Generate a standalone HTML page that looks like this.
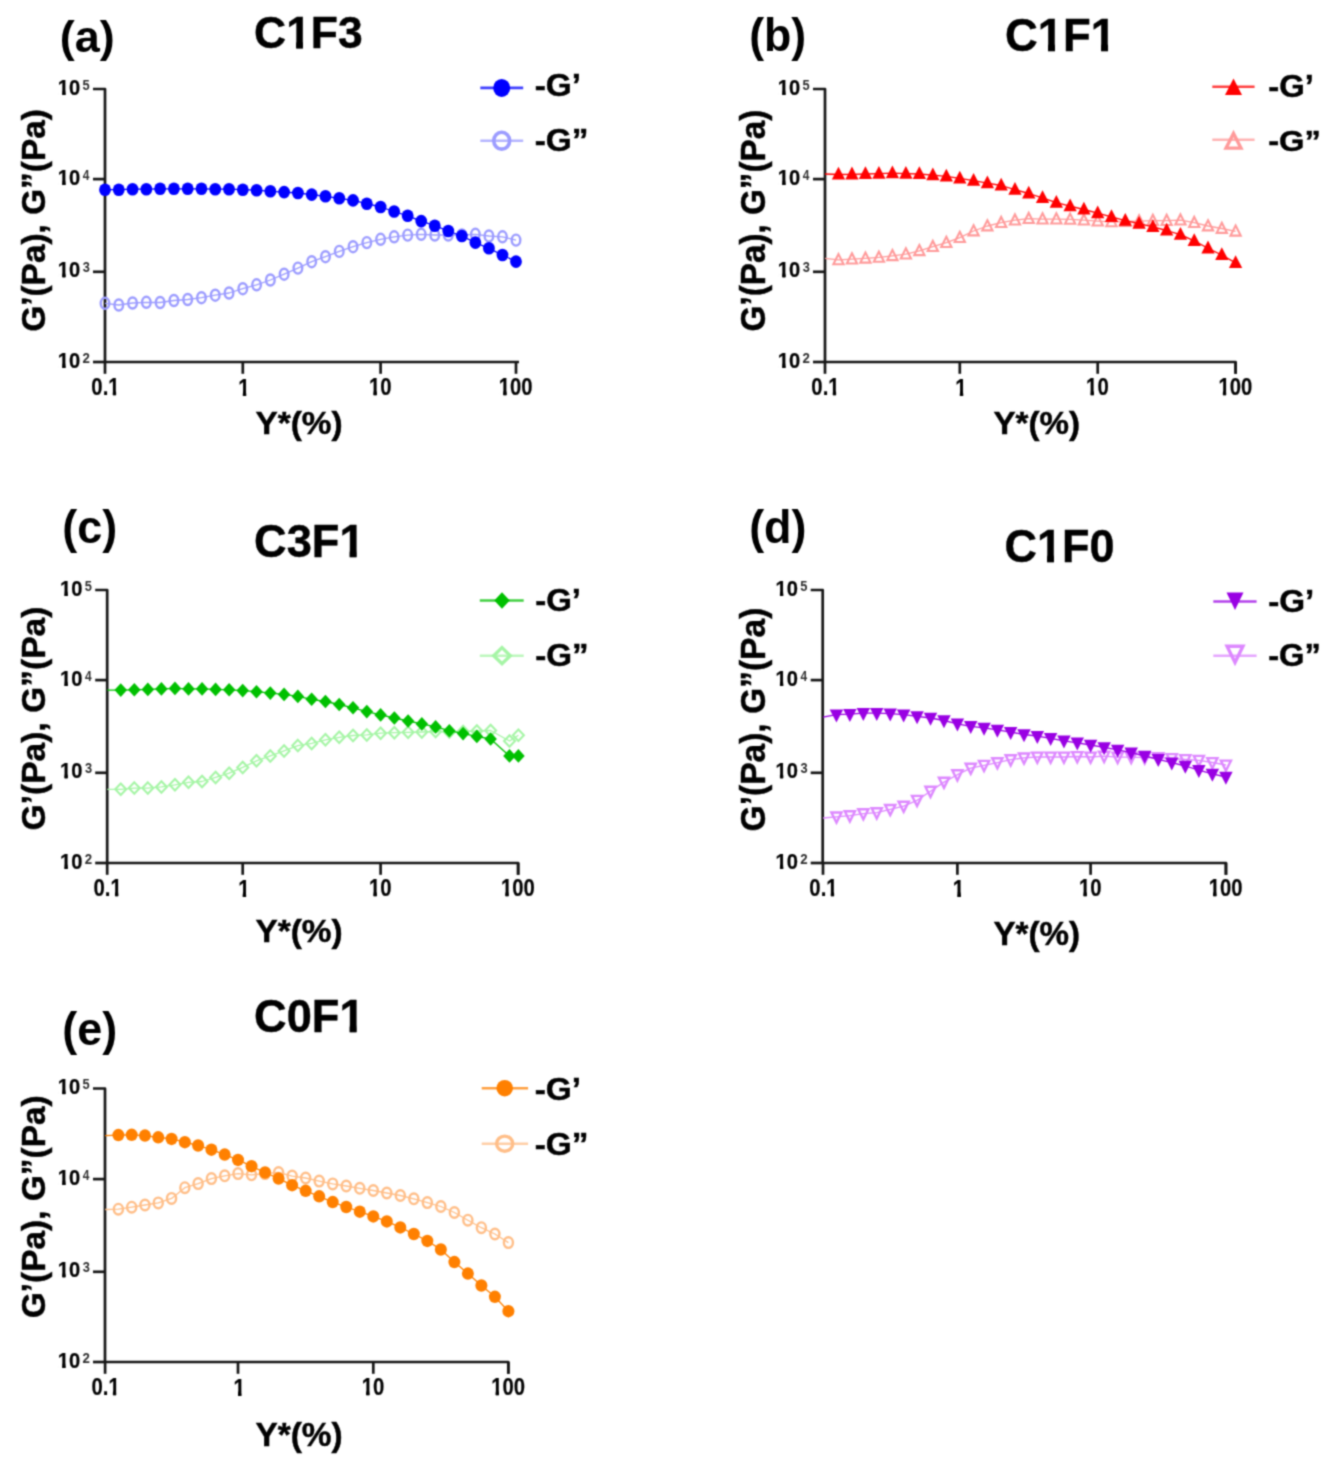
<!DOCTYPE html><html><head><meta charset="utf-8"><style>html,body{margin:0;padding:0;background:#fff;}svg{display:block;}text{font-family:"Liberation Sans",sans-serif;font-weight:bold;font-kerning:none;stroke:#000;stroke-width:0.45px;}</style></head><body>
<svg width="1331" height="1466" viewBox="0 0 1331 1466">
<defs><filter id="bl" x="0" y="0" width="1331" height="1466" filterUnits="userSpaceOnUse" color-interpolation-filters="sRGB"><feConvolveMatrix order="5" kernelMatrix="0.00009 0.00198 0.00548 0.00198 0.00009 0.00198 0.04220 0.11707 0.04220 0.00198 0.00548 0.11707 0.32480 0.11707 0.00548 0.00198 0.04220 0.11707 0.04220 0.00198 0.00009 0.00198 0.00548 0.00198 0.00009" divisor="1" edgeMode="duplicate"/></filter></defs><g filter="url(#bl)">
<rect width="1331" height="1466" fill="#fff"/>
<path d="M93.00,89.00 H105.00 V362.00 H519.00" fill="none" stroke="#161616" stroke-width="2.7" stroke-linejoin="round"/>
<line x1="93.00" y1="271.80" x2="105.00" y2="271.80" stroke="#161616" stroke-width="2.7"/>
<line x1="93.00" y1="179.10" x2="105.00" y2="179.10" stroke="#161616" stroke-width="2.7"/>
<line x1="93.00" y1="362.00" x2="105.00" y2="362.00" stroke="#161616" stroke-width="2.7"/>
<line x1="105.00" y1="362.00" x2="105.00" y2="373.80" stroke="#161616" stroke-width="2.7"/>
<line x1="242.80" y1="362.00" x2="242.80" y2="373.80" stroke="#161616" stroke-width="2.7"/>
<line x1="380.60" y1="362.00" x2="380.60" y2="373.80" stroke="#161616" stroke-width="2.7"/>
<line x1="516.00" y1="362.00" x2="516.00" y2="373.80" stroke="#161616" stroke-width="2.7"/>
<text transform="translate(57.82,367.58) scale(0.8857,1)" font-size="22.74" fill="#000" style="stroke-width:0.25px">10</text>
<g transform="translate(57.82,367.58) scale(0.8857,1)" fill="#fff"><rect x="0.43" y="-3.32" width="4.53" height="4.62"/><rect x="8.78" y="-3.32" width="4.24" height="4.62"/><rect fill="#000" x="5.18" y="-3.82" width="3.37" height="3.95"/></g>
<text transform="translate(82.54,362.70) scale(0.9190,1)" font-size="14.46" fill="#303030" style="stroke-width:0px">2</text>
<text transform="translate(57.82,277.38) scale(0.8857,1)" font-size="22.74" fill="#000" style="stroke-width:0.25px">10</text>
<g transform="translate(57.82,277.38) scale(0.8857,1)" fill="#fff"><rect x="0.43" y="-3.32" width="4.53" height="4.62"/><rect x="8.78" y="-3.32" width="4.24" height="4.62"/><rect fill="#000" x="5.18" y="-3.82" width="3.37" height="3.95"/></g>
<text transform="translate(82.70,272.34) scale(0.9044,1)" font-size="14.24" fill="#303030" style="stroke-width:0px">3</text>
<text transform="translate(57.82,184.68) scale(0.8857,1)" font-size="22.74" fill="#000" style="stroke-width:0.25px">10</text>
<g transform="translate(57.82,184.68) scale(0.8857,1)" fill="#fff"><rect x="0.43" y="-3.32" width="4.53" height="4.62"/><rect x="8.78" y="-3.32" width="4.24" height="4.62"/><rect fill="#000" x="5.18" y="-3.82" width="3.37" height="3.95"/></g>
<text transform="translate(82.82,179.80) scale(0.8139,1)" font-size="14.68" fill="#303030" style="stroke-width:0px">4</text>
<text transform="translate(57.82,94.58) scale(0.8857,1)" font-size="22.74" fill="#000" style="stroke-width:0.25px">10</text>
<g transform="translate(57.82,94.58) scale(0.8857,1)" fill="#fff"><rect x="0.43" y="-3.32" width="4.53" height="4.62"/><rect x="8.78" y="-3.32" width="4.24" height="4.62"/><rect fill="#000" x="5.18" y="-3.82" width="3.37" height="3.95"/></g>
<text transform="translate(82.60,89.56) scale(0.8886,1)" font-size="14.48" fill="#303030" style="stroke-width:0px">5</text>
<text transform="translate(91.36,395.27) scale(0.8464,1)" font-size="24.01" fill="#000" style="stroke-width:0.2px">0.1</text>
<g transform="translate(91.36,395.27) scale(0.8464,1)" fill="#fff"><rect x="20.54" y="-3.45" width="4.74" height="4.75"/><rect x="29.27" y="-3.45" width="4.44" height="4.75"/><rect fill="#000" x="25.53" y="-3.95" width="3.49" height="4.05"/></g>
<text transform="translate(238.23,395.50) scale(0.8423,1)" font-size="24.71" fill="#000" style="stroke-width:0.2px">1</text>
<g transform="translate(238.23,395.50) scale(0.8423,1)" fill="#fff"><rect x="0.56" y="-3.52" width="4.86" height="4.82"/><rect x="9.51" y="-3.52" width="4.55" height="4.82"/><rect fill="#000" x="5.67" y="-4.02" width="3.59" height="4.12"/></g>
<text transform="translate(369.00,395.27) scale(0.8476,1)" font-size="24.01" fill="#000" style="stroke-width:0.2px">10</text>
<g transform="translate(369.00,395.27) scale(0.8476,1)" fill="#fff"><rect x="0.51" y="-3.45" width="4.74" height="4.75"/><rect x="9.25" y="-3.45" width="4.44" height="4.75"/><rect fill="#000" x="5.50" y="-3.95" width="3.49" height="4.05"/></g>
<text transform="translate(498.80,395.27) scale(0.8446,1)" font-size="24.01" fill="#000" style="stroke-width:0.2px">100</text>
<g transform="translate(498.80,395.27) scale(0.8446,1)" fill="#fff"><rect x="0.51" y="-3.45" width="4.74" height="4.75"/><rect x="9.25" y="-3.45" width="4.44" height="4.75"/><rect fill="#000" x="5.50" y="-3.95" width="3.49" height="4.05"/></g>
<text transform="translate(59.76,51.53) scale(0.9960,1)" font-size="45.17" fill="#000" style="stroke-width:0px">(a)</text>
<text transform="translate(254.08,48.30) scale(1.0005,1)" font-size="44.40" fill="#000">C1F3</text>
<g transform="translate(254.08,48.30) scale(1.0005,1)" fill="#fff"><rect x="33.86" y="-5.53" width="8.22" height="6.83"/><rect x="48.87" y="-5.53" width="7.65" height="6.83"/><rect fill="#000" x="42.20" y="-6.03" width="6.54" height="6.26"/></g>
<text transform="translate(44.83,331.77) rotate(-90) scale(1.0243,1)" font-size="32.61" fill="#000">G’(Pa), G”(Pa)</text>
<text transform="translate(255.43,433.90) scale(1.0664,1)" font-size="31.33" fill="#000">Y*(%)</text>
<path d="M105.00,303.30 L118.78,305.00 L132.56,303.00 L146.34,302.30 L160.12,302.50 L173.90,300.50 L187.68,299.50 L201.46,297.70 L215.24,295.20 L229.02,293.00 L242.80,288.70 L256.58,284.80 L270.36,280.00 L284.14,274.20 L297.92,268.10 L311.70,261.70 L325.48,256.70 L339.26,251.40 L353.04,246.70 L366.82,242.60 L380.60,239.30 L394.14,236.80 L407.68,235.10 L421.22,234.30 L434.76,235.00 L448.30,235.00 L461.84,235.00 L475.38,234.30 L488.92,236.00 L502.46,236.80 L516.00,240.10" fill="none" stroke="#9C9CFF" stroke-width="1.3" stroke-linejoin="round"/>
<ellipse cx="105.00" cy="303.30" rx="4.30" ry="5.50" fill="none" stroke="#9C9CFF" stroke-width="2.4"/>
<ellipse cx="118.78" cy="305.00" rx="4.30" ry="5.50" fill="none" stroke="#9C9CFF" stroke-width="2.4"/>
<ellipse cx="132.56" cy="303.00" rx="4.30" ry="5.50" fill="none" stroke="#9C9CFF" stroke-width="2.4"/>
<ellipse cx="146.34" cy="302.30" rx="4.30" ry="5.50" fill="none" stroke="#9C9CFF" stroke-width="2.4"/>
<ellipse cx="160.12" cy="302.50" rx="4.30" ry="5.50" fill="none" stroke="#9C9CFF" stroke-width="2.4"/>
<ellipse cx="173.90" cy="300.50" rx="4.30" ry="5.50" fill="none" stroke="#9C9CFF" stroke-width="2.4"/>
<ellipse cx="187.68" cy="299.50" rx="4.30" ry="5.50" fill="none" stroke="#9C9CFF" stroke-width="2.4"/>
<ellipse cx="201.46" cy="297.70" rx="4.30" ry="5.50" fill="none" stroke="#9C9CFF" stroke-width="2.4"/>
<ellipse cx="215.24" cy="295.20" rx="4.30" ry="5.50" fill="none" stroke="#9C9CFF" stroke-width="2.4"/>
<ellipse cx="229.02" cy="293.00" rx="4.30" ry="5.50" fill="none" stroke="#9C9CFF" stroke-width="2.4"/>
<ellipse cx="242.80" cy="288.70" rx="4.30" ry="5.50" fill="none" stroke="#9C9CFF" stroke-width="2.4"/>
<ellipse cx="256.58" cy="284.80" rx="4.30" ry="5.50" fill="none" stroke="#9C9CFF" stroke-width="2.4"/>
<ellipse cx="270.36" cy="280.00" rx="4.30" ry="5.50" fill="none" stroke="#9C9CFF" stroke-width="2.4"/>
<ellipse cx="284.14" cy="274.20" rx="4.30" ry="5.50" fill="none" stroke="#9C9CFF" stroke-width="2.4"/>
<ellipse cx="297.92" cy="268.10" rx="4.30" ry="5.50" fill="none" stroke="#9C9CFF" stroke-width="2.4"/>
<ellipse cx="311.70" cy="261.70" rx="4.30" ry="5.50" fill="none" stroke="#9C9CFF" stroke-width="2.4"/>
<ellipse cx="325.48" cy="256.70" rx="4.30" ry="5.50" fill="none" stroke="#9C9CFF" stroke-width="2.4"/>
<ellipse cx="339.26" cy="251.40" rx="4.30" ry="5.50" fill="none" stroke="#9C9CFF" stroke-width="2.4"/>
<ellipse cx="353.04" cy="246.70" rx="4.30" ry="5.50" fill="none" stroke="#9C9CFF" stroke-width="2.4"/>
<ellipse cx="366.82" cy="242.60" rx="4.30" ry="5.50" fill="none" stroke="#9C9CFF" stroke-width="2.4"/>
<ellipse cx="380.60" cy="239.30" rx="4.30" ry="5.50" fill="none" stroke="#9C9CFF" stroke-width="2.4"/>
<ellipse cx="394.14" cy="236.80" rx="4.30" ry="5.50" fill="none" stroke="#9C9CFF" stroke-width="2.4"/>
<ellipse cx="407.68" cy="235.10" rx="4.30" ry="5.50" fill="none" stroke="#9C9CFF" stroke-width="2.4"/>
<ellipse cx="421.22" cy="234.30" rx="4.30" ry="5.50" fill="none" stroke="#9C9CFF" stroke-width="2.4"/>
<ellipse cx="434.76" cy="235.00" rx="4.30" ry="5.50" fill="none" stroke="#9C9CFF" stroke-width="2.4"/>
<ellipse cx="448.30" cy="235.00" rx="4.30" ry="5.50" fill="none" stroke="#9C9CFF" stroke-width="2.4"/>
<ellipse cx="461.84" cy="235.00" rx="4.30" ry="5.50" fill="none" stroke="#9C9CFF" stroke-width="2.4"/>
<ellipse cx="475.38" cy="234.30" rx="4.30" ry="5.50" fill="none" stroke="#9C9CFF" stroke-width="2.4"/>
<ellipse cx="488.92" cy="236.00" rx="4.30" ry="5.50" fill="none" stroke="#9C9CFF" stroke-width="2.4"/>
<ellipse cx="502.46" cy="236.80" rx="4.30" ry="5.50" fill="none" stroke="#9C9CFF" stroke-width="2.4"/>
<ellipse cx="516.00" cy="240.10" rx="4.30" ry="5.50" fill="none" stroke="#9C9CFF" stroke-width="2.4"/>
<path d="M105.00,189.70 L118.78,189.70 L132.56,189.20 L146.34,189.20 L160.12,188.80 L173.90,188.80 L187.68,188.80 L201.46,188.80 L215.24,189.20 L229.02,189.20 L242.80,189.70 L256.58,190.20 L270.36,191.30 L284.14,192.10 L297.92,193.00 L311.70,194.60 L325.48,196.30 L339.26,198.30 L353.04,200.40 L366.82,203.70 L380.60,207.00 L394.14,211.50 L407.68,215.80 L421.22,221.10 L434.76,225.70 L448.30,231.00 L461.84,236.00 L475.38,242.60 L488.92,248.30 L502.46,255.00 L516.00,261.60" fill="none" stroke="#0000FF" stroke-width="1.3" stroke-linejoin="round"/>
<ellipse cx="105.00" cy="189.70" rx="5.90" ry="6.30" fill="#0000FF"/>
<ellipse cx="118.78" cy="189.70" rx="5.90" ry="6.30" fill="#0000FF"/>
<ellipse cx="132.56" cy="189.20" rx="5.90" ry="6.30" fill="#0000FF"/>
<ellipse cx="146.34" cy="189.20" rx="5.90" ry="6.30" fill="#0000FF"/>
<ellipse cx="160.12" cy="188.80" rx="5.90" ry="6.30" fill="#0000FF"/>
<ellipse cx="173.90" cy="188.80" rx="5.90" ry="6.30" fill="#0000FF"/>
<ellipse cx="187.68" cy="188.80" rx="5.90" ry="6.30" fill="#0000FF"/>
<ellipse cx="201.46" cy="188.80" rx="5.90" ry="6.30" fill="#0000FF"/>
<ellipse cx="215.24" cy="189.20" rx="5.90" ry="6.30" fill="#0000FF"/>
<ellipse cx="229.02" cy="189.20" rx="5.90" ry="6.30" fill="#0000FF"/>
<ellipse cx="242.80" cy="189.70" rx="5.90" ry="6.30" fill="#0000FF"/>
<ellipse cx="256.58" cy="190.20" rx="5.90" ry="6.30" fill="#0000FF"/>
<ellipse cx="270.36" cy="191.30" rx="5.90" ry="6.30" fill="#0000FF"/>
<ellipse cx="284.14" cy="192.10" rx="5.90" ry="6.30" fill="#0000FF"/>
<ellipse cx="297.92" cy="193.00" rx="5.90" ry="6.30" fill="#0000FF"/>
<ellipse cx="311.70" cy="194.60" rx="5.90" ry="6.30" fill="#0000FF"/>
<ellipse cx="325.48" cy="196.30" rx="5.90" ry="6.30" fill="#0000FF"/>
<ellipse cx="339.26" cy="198.30" rx="5.90" ry="6.30" fill="#0000FF"/>
<ellipse cx="353.04" cy="200.40" rx="5.90" ry="6.30" fill="#0000FF"/>
<ellipse cx="366.82" cy="203.70" rx="5.90" ry="6.30" fill="#0000FF"/>
<ellipse cx="380.60" cy="207.00" rx="5.90" ry="6.30" fill="#0000FF"/>
<ellipse cx="394.14" cy="211.50" rx="5.90" ry="6.30" fill="#0000FF"/>
<ellipse cx="407.68" cy="215.80" rx="5.90" ry="6.30" fill="#0000FF"/>
<ellipse cx="421.22" cy="221.10" rx="5.90" ry="6.30" fill="#0000FF"/>
<ellipse cx="434.76" cy="225.70" rx="5.90" ry="6.30" fill="#0000FF"/>
<ellipse cx="448.30" cy="231.00" rx="5.90" ry="6.30" fill="#0000FF"/>
<ellipse cx="461.84" cy="236.00" rx="5.90" ry="6.30" fill="#0000FF"/>
<ellipse cx="475.38" cy="242.60" rx="5.90" ry="6.30" fill="#0000FF"/>
<ellipse cx="488.92" cy="248.30" rx="5.90" ry="6.30" fill="#0000FF"/>
<ellipse cx="502.46" cy="255.00" rx="5.90" ry="6.30" fill="#0000FF"/>
<ellipse cx="516.00" cy="261.60" rx="5.90" ry="6.30" fill="#0000FF"/>
<line x1="480.30" y1="87.90" x2="523.20" y2="87.90" stroke="#0000FF" stroke-width="2.6" opacity="0.75"/>
<ellipse cx="501.70" cy="87.90" rx="8.50" ry="9.00" fill="#0000FF"/>
<text transform="translate(534.70,96.29) scale(1.0650,1)" font-size="31.36" fill="#000">-G’</text>
<line x1="480.30" y1="140.70" x2="523.20" y2="140.70" stroke="#9C9CFF" stroke-width="2.6" opacity="0.75"/>
<ellipse cx="501.70" cy="140.70" rx="7.95" ry="8.45" fill="none" stroke="#9C9CFF" stroke-width="3.6"/>
<text transform="translate(534.69,150.99) scale(1.0669,1)" font-size="31.36" fill="#000">-G”</text>
<path d="M813.00,89.00 H825.00 V362.00 H1235.60 V373.80" fill="none" stroke="#161616" stroke-width="2.7" stroke-linejoin="round"/>
<line x1="813.00" y1="271.80" x2="825.00" y2="271.80" stroke="#161616" stroke-width="2.7"/>
<line x1="813.00" y1="179.10" x2="825.00" y2="179.10" stroke="#161616" stroke-width="2.7"/>
<line x1="813.00" y1="362.00" x2="825.00" y2="362.00" stroke="#161616" stroke-width="2.7"/>
<line x1="825.00" y1="362.00" x2="825.00" y2="373.80" stroke="#161616" stroke-width="2.7"/>
<line x1="959.80" y1="362.00" x2="959.80" y2="373.80" stroke="#161616" stroke-width="2.7"/>
<line x1="1097.70" y1="362.00" x2="1097.70" y2="373.80" stroke="#161616" stroke-width="2.7"/>
<line x1="1235.60" y1="362.00" x2="1235.60" y2="373.80" stroke="#161616" stroke-width="2.7"/>
<text transform="translate(777.82,367.58) scale(0.8857,1)" font-size="22.74" fill="#000" style="stroke-width:0.25px">10</text>
<g transform="translate(777.82,367.58) scale(0.8857,1)" fill="#fff"><rect x="0.43" y="-3.32" width="4.53" height="4.62"/><rect x="8.78" y="-3.32" width="4.24" height="4.62"/><rect fill="#000" x="5.18" y="-3.82" width="3.37" height="3.95"/></g>
<text transform="translate(802.54,362.70) scale(0.9190,1)" font-size="14.46" fill="#303030" style="stroke-width:0px">2</text>
<text transform="translate(777.82,277.38) scale(0.8857,1)" font-size="22.74" fill="#000" style="stroke-width:0.25px">10</text>
<g transform="translate(777.82,277.38) scale(0.8857,1)" fill="#fff"><rect x="0.43" y="-3.32" width="4.53" height="4.62"/><rect x="8.78" y="-3.32" width="4.24" height="4.62"/><rect fill="#000" x="5.18" y="-3.82" width="3.37" height="3.95"/></g>
<text transform="translate(802.70,272.34) scale(0.9044,1)" font-size="14.24" fill="#303030" style="stroke-width:0px">3</text>
<text transform="translate(777.82,184.68) scale(0.8857,1)" font-size="22.74" fill="#000" style="stroke-width:0.25px">10</text>
<g transform="translate(777.82,184.68) scale(0.8857,1)" fill="#fff"><rect x="0.43" y="-3.32" width="4.53" height="4.62"/><rect x="8.78" y="-3.32" width="4.24" height="4.62"/><rect fill="#000" x="5.18" y="-3.82" width="3.37" height="3.95"/></g>
<text transform="translate(802.82,179.80) scale(0.8139,1)" font-size="14.68" fill="#303030" style="stroke-width:0px">4</text>
<text transform="translate(777.82,94.58) scale(0.8857,1)" font-size="22.74" fill="#000" style="stroke-width:0.25px">10</text>
<g transform="translate(777.82,94.58) scale(0.8857,1)" fill="#fff"><rect x="0.43" y="-3.32" width="4.53" height="4.62"/><rect x="8.78" y="-3.32" width="4.24" height="4.62"/><rect fill="#000" x="5.18" y="-3.82" width="3.37" height="3.95"/></g>
<text transform="translate(802.60,89.56) scale(0.8886,1)" font-size="14.48" fill="#303030" style="stroke-width:0px">5</text>
<text transform="translate(811.36,395.27) scale(0.8464,1)" font-size="24.01" fill="#000" style="stroke-width:0.2px">0.1</text>
<g transform="translate(811.36,395.27) scale(0.8464,1)" fill="#fff"><rect x="20.54" y="-3.45" width="4.74" height="4.75"/><rect x="29.27" y="-3.45" width="4.44" height="4.75"/><rect fill="#000" x="25.53" y="-3.95" width="3.49" height="4.05"/></g>
<text transform="translate(955.23,395.50) scale(0.8423,1)" font-size="24.71" fill="#000" style="stroke-width:0.2px">1</text>
<g transform="translate(955.23,395.50) scale(0.8423,1)" fill="#fff"><rect x="0.56" y="-3.52" width="4.86" height="4.82"/><rect x="9.51" y="-3.52" width="4.55" height="4.82"/><rect fill="#000" x="5.67" y="-4.02" width="3.59" height="4.12"/></g>
<text transform="translate(1086.10,395.27) scale(0.8476,1)" font-size="24.01" fill="#000" style="stroke-width:0.2px">10</text>
<g transform="translate(1086.10,395.27) scale(0.8476,1)" fill="#fff"><rect x="0.51" y="-3.45" width="4.74" height="4.75"/><rect x="9.25" y="-3.45" width="4.44" height="4.75"/><rect fill="#000" x="5.50" y="-3.95" width="3.49" height="4.05"/></g>
<text transform="translate(1218.40,395.27) scale(0.8446,1)" font-size="24.01" fill="#000" style="stroke-width:0.2px">100</text>
<g transform="translate(1218.40,395.27) scale(0.8446,1)" fill="#fff"><rect x="0.51" y="-3.45" width="4.74" height="4.75"/><rect x="9.25" y="-3.45" width="4.44" height="4.75"/><rect fill="#000" x="5.50" y="-3.95" width="3.49" height="4.05"/></g>
<text transform="translate(749.17,51.46) scale(0.9823,1)" font-size="45.49" fill="#000" style="stroke-width:0px">(b)</text>
<text transform="translate(1004.93,50.85) scale(0.9907,1)" font-size="45.90" fill="#000">C1F1</text>
<g transform="translate(1004.93,50.85) scale(0.9907,1)" fill="#fff"><rect x="35.04" y="-5.68" width="8.47" height="6.98"/><rect x="50.51" y="-5.68" width="7.89" height="6.98"/><rect fill="#000" x="43.64" y="-6.18" width="6.75" height="6.41"/><rect x="88.61" y="-5.68" width="8.47" height="6.98"/><rect x="104.08" y="-5.68" width="7.89" height="6.98"/><rect fill="#000" x="97.21" y="-6.18" width="6.75" height="6.41"/></g>
<text transform="translate(765.14,331.46) rotate(-90) scale(0.9513,1)" font-size="34.97" fill="#000">G’(Pa), G”(Pa)</text>
<text transform="translate(993.43,433.90) scale(1.0589,1)" font-size="31.33" fill="#000">Y*(%)</text>
<path d="M825.00,258.30 L838.48,259.90 L851.96,259.10 L865.44,258.30 L878.92,257.40 L892.40,255.80 L905.88,254.10 L919.36,250.80 L932.84,246.70 L946.32,242.60 L959.80,237.60 L973.59,231.00 L987.38,226.00 L1001.17,222.70 L1014.96,220.20 L1028.75,218.70 L1042.54,219.10 L1056.33,219.10 L1070.12,219.40 L1083.91,220.20 L1097.70,221.10 L1111.49,221.90 L1125.28,221.50 L1139.07,221.10 L1152.86,220.60 L1166.65,220.60 L1180.44,220.20 L1194.23,222.70 L1208.02,226.00 L1221.81,228.50 L1235.60,231.30" fill="none" stroke="#FF9A9A" stroke-width="1.3" stroke-linejoin="round"/>
<polygon points="838.48,254.11 843.59,264.25 833.37,264.25" fill="none" stroke="#FF9A9A" stroke-width="2.1" stroke-linejoin="miter"/>
<polygon points="851.96,253.31 857.07,263.45 846.85,263.45" fill="none" stroke="#FF9A9A" stroke-width="2.1" stroke-linejoin="miter"/>
<polygon points="865.44,252.51 870.55,262.65 860.33,262.65" fill="none" stroke="#FF9A9A" stroke-width="2.1" stroke-linejoin="miter"/>
<polygon points="878.92,251.61 884.03,261.75 873.81,261.75" fill="none" stroke="#FF9A9A" stroke-width="2.1" stroke-linejoin="miter"/>
<polygon points="892.40,250.01 897.51,260.15 887.29,260.15" fill="none" stroke="#FF9A9A" stroke-width="2.1" stroke-linejoin="miter"/>
<polygon points="905.88,248.31 910.99,258.45 900.77,258.45" fill="none" stroke="#FF9A9A" stroke-width="2.1" stroke-linejoin="miter"/>
<polygon points="919.36,245.01 924.47,255.15 914.25,255.15" fill="none" stroke="#FF9A9A" stroke-width="2.1" stroke-linejoin="miter"/>
<polygon points="932.84,240.91 937.95,251.05 927.73,251.05" fill="none" stroke="#FF9A9A" stroke-width="2.1" stroke-linejoin="miter"/>
<polygon points="946.32,236.81 951.43,246.95 941.21,246.95" fill="none" stroke="#FF9A9A" stroke-width="2.1" stroke-linejoin="miter"/>
<polygon points="959.80,231.81 964.91,241.95 954.69,241.95" fill="none" stroke="#FF9A9A" stroke-width="2.1" stroke-linejoin="miter"/>
<polygon points="973.59,225.21 978.70,235.35 968.48,235.35" fill="none" stroke="#FF9A9A" stroke-width="2.1" stroke-linejoin="miter"/>
<polygon points="987.38,220.21 992.49,230.35 982.27,230.35" fill="none" stroke="#FF9A9A" stroke-width="2.1" stroke-linejoin="miter"/>
<polygon points="1001.17,216.91 1006.28,227.05 996.06,227.05" fill="none" stroke="#FF9A9A" stroke-width="2.1" stroke-linejoin="miter"/>
<polygon points="1014.96,214.41 1020.07,224.55 1009.85,224.55" fill="none" stroke="#FF9A9A" stroke-width="2.1" stroke-linejoin="miter"/>
<polygon points="1028.75,212.91 1033.86,223.05 1023.64,223.05" fill="none" stroke="#FF9A9A" stroke-width="2.1" stroke-linejoin="miter"/>
<polygon points="1042.54,213.31 1047.65,223.45 1037.43,223.45" fill="none" stroke="#FF9A9A" stroke-width="2.1" stroke-linejoin="miter"/>
<polygon points="1056.33,213.31 1061.44,223.45 1051.22,223.45" fill="none" stroke="#FF9A9A" stroke-width="2.1" stroke-linejoin="miter"/>
<polygon points="1070.12,213.61 1075.23,223.75 1065.01,223.75" fill="none" stroke="#FF9A9A" stroke-width="2.1" stroke-linejoin="miter"/>
<polygon points="1083.91,214.41 1089.02,224.55 1078.80,224.55" fill="none" stroke="#FF9A9A" stroke-width="2.1" stroke-linejoin="miter"/>
<polygon points="1097.70,215.31 1102.81,225.45 1092.59,225.45" fill="none" stroke="#FF9A9A" stroke-width="2.1" stroke-linejoin="miter"/>
<polygon points="1111.49,216.11 1116.60,226.25 1106.38,226.25" fill="none" stroke="#FF9A9A" stroke-width="2.1" stroke-linejoin="miter"/>
<polygon points="1125.28,215.71 1130.39,225.85 1120.17,225.85" fill="none" stroke="#FF9A9A" stroke-width="2.1" stroke-linejoin="miter"/>
<polygon points="1139.07,215.31 1144.18,225.45 1133.96,225.45" fill="none" stroke="#FF9A9A" stroke-width="2.1" stroke-linejoin="miter"/>
<polygon points="1152.86,214.81 1157.97,224.95 1147.75,224.95" fill="none" stroke="#FF9A9A" stroke-width="2.1" stroke-linejoin="miter"/>
<polygon points="1166.65,214.81 1171.76,224.95 1161.54,224.95" fill="none" stroke="#FF9A9A" stroke-width="2.1" stroke-linejoin="miter"/>
<polygon points="1180.44,214.41 1185.55,224.55 1175.33,224.55" fill="none" stroke="#FF9A9A" stroke-width="2.1" stroke-linejoin="miter"/>
<polygon points="1194.23,216.91 1199.34,227.05 1189.12,227.05" fill="none" stroke="#FF9A9A" stroke-width="2.1" stroke-linejoin="miter"/>
<polygon points="1208.02,220.21 1213.13,230.35 1202.91,230.35" fill="none" stroke="#FF9A9A" stroke-width="2.1" stroke-linejoin="miter"/>
<polygon points="1221.81,222.71 1226.92,232.85 1216.70,232.85" fill="none" stroke="#FF9A9A" stroke-width="2.1" stroke-linejoin="miter"/>
<polygon points="1235.60,225.51 1240.71,235.65 1230.49,235.65" fill="none" stroke="#FF9A9A" stroke-width="2.1" stroke-linejoin="miter"/>
<path d="M825.00,174.00 L838.48,174.50 L851.96,174.30 L865.44,174.00 L878.92,173.60 L892.40,173.10 L905.88,173.60 L919.36,174.00 L932.84,175.10 L946.32,176.40 L959.80,178.40 L973.59,180.60 L987.38,183.10 L1001.17,185.50 L1014.96,189.70 L1028.75,193.50 L1042.54,197.90 L1056.33,202.60 L1070.12,206.20 L1083.91,209.50 L1097.70,213.10 L1111.49,216.90 L1125.28,220.60 L1139.07,223.60 L1152.86,226.90 L1166.65,230.50 L1180.44,234.60 L1194.23,240.90 L1208.02,248.30 L1221.81,255.00 L1235.60,262.90" fill="none" stroke="#FF0000" stroke-width="1.3" stroke-linejoin="round"/>
<polygon points="838.48,166.82 845.13,179.62 831.83,179.62" fill="#FF0000"/>
<polygon points="851.96,166.62 858.61,179.42 845.31,179.42" fill="#FF0000"/>
<polygon points="865.44,166.32 872.09,179.12 858.79,179.12" fill="#FF0000"/>
<polygon points="878.92,165.92 885.57,178.72 872.27,178.72" fill="#FF0000"/>
<polygon points="892.40,165.42 899.05,178.22 885.75,178.22" fill="#FF0000"/>
<polygon points="905.88,165.92 912.53,178.72 899.23,178.72" fill="#FF0000"/>
<polygon points="919.36,166.32 926.01,179.12 912.71,179.12" fill="#FF0000"/>
<polygon points="932.84,167.42 939.49,180.22 926.19,180.22" fill="#FF0000"/>
<polygon points="946.32,168.72 952.97,181.52 939.67,181.52" fill="#FF0000"/>
<polygon points="959.80,170.72 966.45,183.52 953.15,183.52" fill="#FF0000"/>
<polygon points="973.59,172.92 980.24,185.72 966.94,185.72" fill="#FF0000"/>
<polygon points="987.38,175.42 994.03,188.22 980.73,188.22" fill="#FF0000"/>
<polygon points="1001.17,177.82 1007.82,190.62 994.52,190.62" fill="#FF0000"/>
<polygon points="1014.96,182.02 1021.61,194.82 1008.31,194.82" fill="#FF0000"/>
<polygon points="1028.75,185.82 1035.40,198.62 1022.10,198.62" fill="#FF0000"/>
<polygon points="1042.54,190.22 1049.19,203.02 1035.89,203.02" fill="#FF0000"/>
<polygon points="1056.33,194.92 1062.98,207.72 1049.68,207.72" fill="#FF0000"/>
<polygon points="1070.12,198.52 1076.77,211.32 1063.47,211.32" fill="#FF0000"/>
<polygon points="1083.91,201.82 1090.56,214.62 1077.26,214.62" fill="#FF0000"/>
<polygon points="1097.70,205.42 1104.35,218.22 1091.05,218.22" fill="#FF0000"/>
<polygon points="1111.49,209.22 1118.14,222.02 1104.84,222.02" fill="#FF0000"/>
<polygon points="1125.28,212.92 1131.93,225.72 1118.63,225.72" fill="#FF0000"/>
<polygon points="1139.07,215.92 1145.72,228.72 1132.42,228.72" fill="#FF0000"/>
<polygon points="1152.86,219.22 1159.51,232.02 1146.21,232.02" fill="#FF0000"/>
<polygon points="1166.65,222.82 1173.30,235.62 1160.00,235.62" fill="#FF0000"/>
<polygon points="1180.44,226.92 1187.09,239.72 1173.79,239.72" fill="#FF0000"/>
<polygon points="1194.23,233.22 1200.88,246.02 1187.58,246.02" fill="#FF0000"/>
<polygon points="1208.02,240.62 1214.67,253.42 1201.37,253.42" fill="#FF0000"/>
<polygon points="1221.81,247.32 1228.46,260.12 1215.16,260.12" fill="#FF0000"/>
<polygon points="1235.60,255.22 1242.25,268.02 1228.95,268.02" fill="#FF0000"/>
<line x1="1212.30" y1="86.70" x2="1254.60" y2="86.70" stroke="#FF0000" stroke-width="2.6" opacity="0.75"/>
<polygon points="1233.50,78.45 1242.00,94.95 1225.00,94.95" fill="#FF0000"/>
<text transform="translate(1268.22,96.59) scale(1.0382,1)" font-size="31.64" fill="#000">-G’</text>
<line x1="1212.30" y1="139.80" x2="1254.60" y2="139.80" stroke="#FF9A9A" stroke-width="2.6" opacity="0.75"/>
<polygon points="1233.50,133.54 1240.94,148.10 1226.06,148.10" fill="none" stroke="#FF9A9A" stroke-width="3.4" stroke-linejoin="miter"/>
<text transform="translate(1268.22,150.70) scale(1.0825,1)" font-size="30.23" fill="#000">-G”</text>
<path d="M95.20,590.00 H107.20 V863.00 H518.20 V874.80" fill="none" stroke="#161616" stroke-width="2.7" stroke-linejoin="round"/>
<line x1="95.20" y1="772.80" x2="107.20" y2="772.80" stroke="#161616" stroke-width="2.7"/>
<line x1="95.20" y1="680.10" x2="107.20" y2="680.10" stroke="#161616" stroke-width="2.7"/>
<line x1="95.20" y1="863.00" x2="107.20" y2="863.00" stroke="#161616" stroke-width="2.7"/>
<line x1="107.20" y1="863.00" x2="107.20" y2="874.80" stroke="#161616" stroke-width="2.7"/>
<line x1="242.70" y1="863.00" x2="242.70" y2="874.80" stroke="#161616" stroke-width="2.7"/>
<line x1="380.60" y1="863.00" x2="380.60" y2="874.80" stroke="#161616" stroke-width="2.7"/>
<line x1="518.10" y1="863.00" x2="518.10" y2="874.80" stroke="#161616" stroke-width="2.7"/>
<text transform="translate(60.02,868.58) scale(0.8857,1)" font-size="22.74" fill="#000" style="stroke-width:0.25px">10</text>
<g transform="translate(60.02,868.58) scale(0.8857,1)" fill="#fff"><rect x="0.43" y="-3.32" width="4.53" height="4.62"/><rect x="8.78" y="-3.32" width="4.24" height="4.62"/><rect fill="#000" x="5.18" y="-3.82" width="3.37" height="3.95"/></g>
<text transform="translate(84.74,863.70) scale(0.9190,1)" font-size="14.46" fill="#303030" style="stroke-width:0px">2</text>
<text transform="translate(60.02,778.38) scale(0.8857,1)" font-size="22.74" fill="#000" style="stroke-width:0.25px">10</text>
<g transform="translate(60.02,778.38) scale(0.8857,1)" fill="#fff"><rect x="0.43" y="-3.32" width="4.53" height="4.62"/><rect x="8.78" y="-3.32" width="4.24" height="4.62"/><rect fill="#000" x="5.18" y="-3.82" width="3.37" height="3.95"/></g>
<text transform="translate(84.90,773.34) scale(0.9044,1)" font-size="14.24" fill="#303030" style="stroke-width:0px">3</text>
<text transform="translate(60.02,685.68) scale(0.8857,1)" font-size="22.74" fill="#000" style="stroke-width:0.25px">10</text>
<g transform="translate(60.02,685.68) scale(0.8857,1)" fill="#fff"><rect x="0.43" y="-3.32" width="4.53" height="4.62"/><rect x="8.78" y="-3.32" width="4.24" height="4.62"/><rect fill="#000" x="5.18" y="-3.82" width="3.37" height="3.95"/></g>
<text transform="translate(85.02,680.80) scale(0.8139,1)" font-size="14.68" fill="#303030" style="stroke-width:0px">4</text>
<text transform="translate(60.02,595.58) scale(0.8857,1)" font-size="22.74" fill="#000" style="stroke-width:0.25px">10</text>
<g transform="translate(60.02,595.58) scale(0.8857,1)" fill="#fff"><rect x="0.43" y="-3.32" width="4.53" height="4.62"/><rect x="8.78" y="-3.32" width="4.24" height="4.62"/><rect fill="#000" x="5.18" y="-3.82" width="3.37" height="3.95"/></g>
<text transform="translate(84.80,590.56) scale(0.8886,1)" font-size="14.48" fill="#303030" style="stroke-width:0px">5</text>
<text transform="translate(93.56,896.27) scale(0.8464,1)" font-size="24.01" fill="#000" style="stroke-width:0.2px">0.1</text>
<g transform="translate(93.56,896.27) scale(0.8464,1)" fill="#fff"><rect x="20.54" y="-3.45" width="4.74" height="4.75"/><rect x="29.27" y="-3.45" width="4.44" height="4.75"/><rect fill="#000" x="25.53" y="-3.95" width="3.49" height="4.05"/></g>
<text transform="translate(238.13,896.50) scale(0.8423,1)" font-size="24.71" fill="#000" style="stroke-width:0.2px">1</text>
<g transform="translate(238.13,896.50) scale(0.8423,1)" fill="#fff"><rect x="0.56" y="-3.52" width="4.86" height="4.82"/><rect x="9.51" y="-3.52" width="4.55" height="4.82"/><rect fill="#000" x="5.67" y="-4.02" width="3.59" height="4.12"/></g>
<text transform="translate(369.00,896.27) scale(0.8476,1)" font-size="24.01" fill="#000" style="stroke-width:0.2px">10</text>
<g transform="translate(369.00,896.27) scale(0.8476,1)" fill="#fff"><rect x="0.51" y="-3.45" width="4.74" height="4.75"/><rect x="9.25" y="-3.45" width="4.44" height="4.75"/><rect fill="#000" x="5.50" y="-3.95" width="3.49" height="4.05"/></g>
<text transform="translate(500.90,896.27) scale(0.8446,1)" font-size="24.01" fill="#000" style="stroke-width:0.2px">100</text>
<g transform="translate(500.90,896.27) scale(0.8446,1)" fill="#fff"><rect x="0.51" y="-3.45" width="4.74" height="4.75"/><rect x="9.25" y="-3.45" width="4.44" height="4.75"/><rect fill="#000" x="5.50" y="-3.95" width="3.49" height="4.05"/></g>
<text transform="translate(62.36,543.46) scale(0.9890,1)" font-size="45.49" fill="#000" style="stroke-width:0px">(c)</text>
<text transform="translate(254.05,556.89) scale(0.9868,1)" font-size="45.81" fill="#000">C3F1</text>
<g transform="translate(254.05,556.89) scale(0.9868,1)" fill="#fff"><rect x="88.43" y="-5.67" width="8.46" height="6.97"/><rect x="103.87" y="-5.67" width="7.87" height="6.97"/><rect fill="#000" x="97.01" y="-6.17" width="6.74" height="6.40"/></g>
<text transform="translate(45.36,830.38) rotate(-90) scale(0.9903,1)" font-size="33.90" fill="#000">G’(Pa), G”(Pa)</text>
<text transform="translate(255.43,941.88) scale(1.0628,1)" font-size="31.43" fill="#000">Y*(%)</text>
<path d="M107.20,789.30 L120.75,789.30 L134.30,788.10 L147.85,788.10 L161.40,786.90 L174.95,784.80 L188.50,782.30 L202.05,781.50 L215.60,777.40 L229.15,773.20 L242.70,767.40 L256.49,760.80 L270.28,755.90 L284.07,750.90 L297.86,745.60 L311.65,743.40 L325.44,739.80 L339.23,737.30 L353.02,735.50 L366.81,734.90 L380.60,733.20 L394.35,732.70 L408.10,732.30 L421.85,732.00 L435.60,731.50 L449.35,732.00 L463.10,731.50 L476.85,731.00 L490.60,730.50 L509.50,741.00 L518.40,735.20" fill="none" stroke="#A6F5A6" stroke-width="1.3" stroke-linejoin="round"/>
<polygon points="120.75,783.56 126.24,789.30 120.75,795.04 115.26,789.30" fill="none" stroke="#A6F5A6" stroke-width="2.1" stroke-linejoin="miter"/>
<polygon points="134.30,782.36 139.79,788.10 134.30,793.84 128.81,788.10" fill="none" stroke="#A6F5A6" stroke-width="2.1" stroke-linejoin="miter"/>
<polygon points="147.85,782.36 153.34,788.10 147.85,793.84 142.36,788.10" fill="none" stroke="#A6F5A6" stroke-width="2.1" stroke-linejoin="miter"/>
<polygon points="161.40,781.16 166.89,786.90 161.40,792.64 155.91,786.90" fill="none" stroke="#A6F5A6" stroke-width="2.1" stroke-linejoin="miter"/>
<polygon points="174.95,779.06 180.44,784.80 174.95,790.54 169.46,784.80" fill="none" stroke="#A6F5A6" stroke-width="2.1" stroke-linejoin="miter"/>
<polygon points="188.50,776.56 193.99,782.30 188.50,788.04 183.01,782.30" fill="none" stroke="#A6F5A6" stroke-width="2.1" stroke-linejoin="miter"/>
<polygon points="202.05,775.76 207.54,781.50 202.05,787.24 196.56,781.50" fill="none" stroke="#A6F5A6" stroke-width="2.1" stroke-linejoin="miter"/>
<polygon points="215.60,771.66 221.09,777.40 215.60,783.14 210.11,777.40" fill="none" stroke="#A6F5A6" stroke-width="2.1" stroke-linejoin="miter"/>
<polygon points="229.15,767.46 234.64,773.20 229.15,778.94 223.66,773.20" fill="none" stroke="#A6F5A6" stroke-width="2.1" stroke-linejoin="miter"/>
<polygon points="242.70,761.66 248.19,767.40 242.70,773.14 237.21,767.40" fill="none" stroke="#A6F5A6" stroke-width="2.1" stroke-linejoin="miter"/>
<polygon points="256.49,755.06 261.98,760.80 256.49,766.54 251.00,760.80" fill="none" stroke="#A6F5A6" stroke-width="2.1" stroke-linejoin="miter"/>
<polygon points="270.28,750.16 275.77,755.90 270.28,761.64 264.79,755.90" fill="none" stroke="#A6F5A6" stroke-width="2.1" stroke-linejoin="miter"/>
<polygon points="284.07,745.16 289.56,750.90 284.07,756.64 278.58,750.90" fill="none" stroke="#A6F5A6" stroke-width="2.1" stroke-linejoin="miter"/>
<polygon points="297.86,739.86 303.35,745.60 297.86,751.34 292.37,745.60" fill="none" stroke="#A6F5A6" stroke-width="2.1" stroke-linejoin="miter"/>
<polygon points="311.65,737.66 317.14,743.40 311.65,749.14 306.16,743.40" fill="none" stroke="#A6F5A6" stroke-width="2.1" stroke-linejoin="miter"/>
<polygon points="325.44,734.06 330.93,739.80 325.44,745.54 319.95,739.80" fill="none" stroke="#A6F5A6" stroke-width="2.1" stroke-linejoin="miter"/>
<polygon points="339.23,731.56 344.72,737.30 339.23,743.04 333.74,737.30" fill="none" stroke="#A6F5A6" stroke-width="2.1" stroke-linejoin="miter"/>
<polygon points="353.02,729.76 358.51,735.50 353.02,741.24 347.53,735.50" fill="none" stroke="#A6F5A6" stroke-width="2.1" stroke-linejoin="miter"/>
<polygon points="366.81,729.16 372.30,734.90 366.81,740.64 361.32,734.90" fill="none" stroke="#A6F5A6" stroke-width="2.1" stroke-linejoin="miter"/>
<polygon points="380.60,727.46 386.09,733.20 380.60,738.94 375.11,733.20" fill="none" stroke="#A6F5A6" stroke-width="2.1" stroke-linejoin="miter"/>
<polygon points="394.35,726.96 399.84,732.70 394.35,738.44 388.86,732.70" fill="none" stroke="#A6F5A6" stroke-width="2.1" stroke-linejoin="miter"/>
<polygon points="408.10,726.56 413.59,732.30 408.10,738.04 402.61,732.30" fill="none" stroke="#A6F5A6" stroke-width="2.1" stroke-linejoin="miter"/>
<polygon points="421.85,726.26 427.34,732.00 421.85,737.74 416.36,732.00" fill="none" stroke="#A6F5A6" stroke-width="2.1" stroke-linejoin="miter"/>
<polygon points="435.60,725.76 441.09,731.50 435.60,737.24 430.11,731.50" fill="none" stroke="#A6F5A6" stroke-width="2.1" stroke-linejoin="miter"/>
<polygon points="449.35,726.26 454.84,732.00 449.35,737.74 443.86,732.00" fill="none" stroke="#A6F5A6" stroke-width="2.1" stroke-linejoin="miter"/>
<polygon points="463.10,725.76 468.59,731.50 463.10,737.24 457.61,731.50" fill="none" stroke="#A6F5A6" stroke-width="2.1" stroke-linejoin="miter"/>
<polygon points="476.85,725.26 482.34,731.00 476.85,736.74 471.36,731.00" fill="none" stroke="#A6F5A6" stroke-width="2.1" stroke-linejoin="miter"/>
<polygon points="490.60,724.76 496.09,730.50 490.60,736.24 485.11,730.50" fill="none" stroke="#A6F5A6" stroke-width="2.1" stroke-linejoin="miter"/>
<polygon points="509.50,735.26 514.99,741.00 509.50,746.74 504.01,741.00" fill="none" stroke="#A6F5A6" stroke-width="2.1" stroke-linejoin="miter"/>
<polygon points="518.40,729.46 523.89,735.20 518.40,740.94 512.91,735.20" fill="none" stroke="#A6F5A6" stroke-width="2.1" stroke-linejoin="miter"/>
<path d="M107.20,690.10 L120.75,690.10 L134.30,689.80 L147.85,689.40 L161.40,688.90 L174.95,688.40 L188.50,688.90 L202.05,688.90 L215.60,689.40 L229.15,689.80 L242.70,690.60 L256.49,691.70 L270.28,693.10 L284.07,694.40 L297.86,696.40 L311.65,699.30 L325.44,701.50 L339.23,704.50 L353.02,707.80 L366.81,711.60 L380.60,714.90 L394.35,718.00 L408.10,721.00 L421.85,723.90 L435.60,726.90 L449.35,730.70 L463.10,733.60 L476.85,736.40 L490.60,739.00 L509.50,755.90 L518.40,755.90" fill="none" stroke="#00C000" stroke-width="1.3" stroke-linejoin="round"/>
<polygon points="120.75,683.30 127.05,690.10 120.75,696.90 114.45,690.10" fill="#00C000"/>
<polygon points="134.30,683.00 140.60,689.80 134.30,696.60 128.00,689.80" fill="#00C000"/>
<polygon points="147.85,682.60 154.15,689.40 147.85,696.20 141.55,689.40" fill="#00C000"/>
<polygon points="161.40,682.10 167.70,688.90 161.40,695.70 155.10,688.90" fill="#00C000"/>
<polygon points="174.95,681.60 181.25,688.40 174.95,695.20 168.65,688.40" fill="#00C000"/>
<polygon points="188.50,682.10 194.80,688.90 188.50,695.70 182.20,688.90" fill="#00C000"/>
<polygon points="202.05,682.10 208.35,688.90 202.05,695.70 195.75,688.90" fill="#00C000"/>
<polygon points="215.60,682.60 221.90,689.40 215.60,696.20 209.30,689.40" fill="#00C000"/>
<polygon points="229.15,683.00 235.45,689.80 229.15,696.60 222.85,689.80" fill="#00C000"/>
<polygon points="242.70,683.80 249.00,690.60 242.70,697.40 236.40,690.60" fill="#00C000"/>
<polygon points="256.49,684.90 262.79,691.70 256.49,698.50 250.19,691.70" fill="#00C000"/>
<polygon points="270.28,686.30 276.58,693.10 270.28,699.90 263.98,693.10" fill="#00C000"/>
<polygon points="284.07,687.60 290.37,694.40 284.07,701.20 277.77,694.40" fill="#00C000"/>
<polygon points="297.86,689.60 304.16,696.40 297.86,703.20 291.56,696.40" fill="#00C000"/>
<polygon points="311.65,692.50 317.95,699.30 311.65,706.10 305.35,699.30" fill="#00C000"/>
<polygon points="325.44,694.70 331.74,701.50 325.44,708.30 319.14,701.50" fill="#00C000"/>
<polygon points="339.23,697.70 345.53,704.50 339.23,711.30 332.93,704.50" fill="#00C000"/>
<polygon points="353.02,701.00 359.32,707.80 353.02,714.60 346.72,707.80" fill="#00C000"/>
<polygon points="366.81,704.80 373.11,711.60 366.81,718.40 360.51,711.60" fill="#00C000"/>
<polygon points="380.60,708.10 386.90,714.90 380.60,721.70 374.30,714.90" fill="#00C000"/>
<polygon points="394.35,711.20 400.65,718.00 394.35,724.80 388.05,718.00" fill="#00C000"/>
<polygon points="408.10,714.20 414.40,721.00 408.10,727.80 401.80,721.00" fill="#00C000"/>
<polygon points="421.85,717.10 428.15,723.90 421.85,730.70 415.55,723.90" fill="#00C000"/>
<polygon points="435.60,720.10 441.90,726.90 435.60,733.70 429.30,726.90" fill="#00C000"/>
<polygon points="449.35,723.90 455.65,730.70 449.35,737.50 443.05,730.70" fill="#00C000"/>
<polygon points="463.10,726.80 469.40,733.60 463.10,740.40 456.80,733.60" fill="#00C000"/>
<polygon points="476.85,729.60 483.15,736.40 476.85,743.20 470.55,736.40" fill="#00C000"/>
<polygon points="490.60,732.20 496.90,739.00 490.60,745.80 484.30,739.00" fill="#00C000"/>
<polygon points="509.50,749.10 515.80,755.90 509.50,762.70 503.20,755.90" fill="#00C000"/>
<polygon points="518.40,749.10 524.70,755.90 518.40,762.70 512.10,755.90" fill="#00C000"/>
<line x1="479.80" y1="600.50" x2="523.70" y2="600.50" stroke="#00C000" stroke-width="2.6" opacity="0.75"/>
<polygon points="502.00,592.25 509.75,600.50 502.00,608.75 494.25,600.50" fill="#00C000"/>
<text transform="translate(535.21,611.29) scale(1.0525,1)" font-size="31.36" fill="#000">-G’</text>
<line x1="479.80" y1="655.70" x2="523.70" y2="655.70" stroke="#A6F5A6" stroke-width="2.6" opacity="0.75"/>
<polygon points="502.00,647.65 510.30,655.70 502.00,663.75 493.70,655.70" fill="none" stroke="#A6F5A6" stroke-width="3.4" stroke-linejoin="miter"/>
<text transform="translate(535.21,665.99) scale(1.0563,1)" font-size="31.36" fill="#000">-G”</text>
<path d="M810.70,590.00 H822.70 V863.00 H1226.00 V874.80" fill="none" stroke="#161616" stroke-width="2.7" stroke-linejoin="round"/>
<line x1="810.70" y1="772.80" x2="822.70" y2="772.80" stroke="#161616" stroke-width="2.7"/>
<line x1="810.70" y1="680.10" x2="822.70" y2="680.10" stroke="#161616" stroke-width="2.7"/>
<line x1="810.70" y1="863.00" x2="822.70" y2="863.00" stroke="#161616" stroke-width="2.7"/>
<line x1="823.00" y1="863.00" x2="823.00" y2="874.80" stroke="#161616" stroke-width="2.7"/>
<line x1="957.40" y1="863.00" x2="957.40" y2="874.80" stroke="#161616" stroke-width="2.7"/>
<line x1="1090.60" y1="863.00" x2="1090.60" y2="874.80" stroke="#161616" stroke-width="2.7"/>
<line x1="1225.90" y1="863.00" x2="1225.90" y2="874.80" stroke="#161616" stroke-width="2.7"/>
<text transform="translate(775.52,868.58) scale(0.8857,1)" font-size="22.74" fill="#000" style="stroke-width:0.25px">10</text>
<g transform="translate(775.52,868.58) scale(0.8857,1)" fill="#fff"><rect x="0.43" y="-3.32" width="4.53" height="4.62"/><rect x="8.78" y="-3.32" width="4.24" height="4.62"/><rect fill="#000" x="5.18" y="-3.82" width="3.37" height="3.95"/></g>
<text transform="translate(800.24,863.70) scale(0.9190,1)" font-size="14.46" fill="#303030" style="stroke-width:0px">2</text>
<text transform="translate(775.52,778.38) scale(0.8857,1)" font-size="22.74" fill="#000" style="stroke-width:0.25px">10</text>
<g transform="translate(775.52,778.38) scale(0.8857,1)" fill="#fff"><rect x="0.43" y="-3.32" width="4.53" height="4.62"/><rect x="8.78" y="-3.32" width="4.24" height="4.62"/><rect fill="#000" x="5.18" y="-3.82" width="3.37" height="3.95"/></g>
<text transform="translate(800.40,773.34) scale(0.9044,1)" font-size="14.24" fill="#303030" style="stroke-width:0px">3</text>
<text transform="translate(775.52,685.68) scale(0.8857,1)" font-size="22.74" fill="#000" style="stroke-width:0.25px">10</text>
<g transform="translate(775.52,685.68) scale(0.8857,1)" fill="#fff"><rect x="0.43" y="-3.32" width="4.53" height="4.62"/><rect x="8.78" y="-3.32" width="4.24" height="4.62"/><rect fill="#000" x="5.18" y="-3.82" width="3.37" height="3.95"/></g>
<text transform="translate(800.52,680.80) scale(0.8139,1)" font-size="14.68" fill="#303030" style="stroke-width:0px">4</text>
<text transform="translate(775.52,595.58) scale(0.8857,1)" font-size="22.74" fill="#000" style="stroke-width:0.25px">10</text>
<g transform="translate(775.52,595.58) scale(0.8857,1)" fill="#fff"><rect x="0.43" y="-3.32" width="4.53" height="4.62"/><rect x="8.78" y="-3.32" width="4.24" height="4.62"/><rect fill="#000" x="5.18" y="-3.82" width="3.37" height="3.95"/></g>
<text transform="translate(800.30,590.56) scale(0.8886,1)" font-size="14.48" fill="#303030" style="stroke-width:0px">5</text>
<text transform="translate(809.36,896.27) scale(0.8464,1)" font-size="24.01" fill="#000" style="stroke-width:0.2px">0.1</text>
<g transform="translate(809.36,896.27) scale(0.8464,1)" fill="#fff"><rect x="20.54" y="-3.45" width="4.74" height="4.75"/><rect x="29.27" y="-3.45" width="4.44" height="4.75"/><rect fill="#000" x="25.53" y="-3.95" width="3.49" height="4.05"/></g>
<text transform="translate(952.83,896.50) scale(0.8423,1)" font-size="24.71" fill="#000" style="stroke-width:0.2px">1</text>
<g transform="translate(952.83,896.50) scale(0.8423,1)" fill="#fff"><rect x="0.56" y="-3.52" width="4.86" height="4.82"/><rect x="9.51" y="-3.52" width="4.55" height="4.82"/><rect fill="#000" x="5.67" y="-4.02" width="3.59" height="4.12"/></g>
<text transform="translate(1079.00,896.27) scale(0.8476,1)" font-size="24.01" fill="#000" style="stroke-width:0.2px">10</text>
<g transform="translate(1079.00,896.27) scale(0.8476,1)" fill="#fff"><rect x="0.51" y="-3.45" width="4.74" height="4.75"/><rect x="9.25" y="-3.45" width="4.44" height="4.75"/><rect fill="#000" x="5.50" y="-3.95" width="3.49" height="4.05"/></g>
<text transform="translate(1208.70,896.27) scale(0.8446,1)" font-size="24.01" fill="#000" style="stroke-width:0.2px">100</text>
<g transform="translate(1208.70,896.27) scale(0.8446,1)" fill="#fff"><rect x="0.51" y="-3.45" width="4.74" height="4.75"/><rect x="9.25" y="-3.45" width="4.44" height="4.75"/><rect fill="#000" x="5.50" y="-3.95" width="3.49" height="4.05"/></g>
<text transform="translate(749.16,543.46) scale(0.9879,1)" font-size="45.49" fill="#000" style="stroke-width:0px">(d)</text>
<text transform="translate(1004.46,561.94) scale(0.9650,1)" font-size="46.61" fill="#000">C1F0</text>
<g transform="translate(1004.46,561.94) scale(0.9650,1)" fill="#fff"><rect x="35.60" y="-5.76" width="8.59" height="7.06"/><rect x="51.28" y="-5.76" width="8.00" height="7.06"/><rect fill="#000" x="44.31" y="-6.26" width="6.85" height="6.48"/></g>
<text transform="translate(765.14,831.48) rotate(-90) scale(0.9604,1)" font-size="34.97" fill="#000">G’(Pa), G”(Pa)</text>
<text transform="translate(993.43,944.93) scale(1.0171,1)" font-size="32.61" fill="#000">Y*(%)</text>
<path d="M823.00,818.00 L836.44,816.90 L849.88,815.70 L863.32,813.60 L876.76,812.70 L890.20,809.40 L903.64,806.10 L917.08,800.30 L930.52,791.20 L943.96,782.10 L957.40,774.70 L970.72,768.10 L984.04,765.30 L997.36,762.60 L1010.68,759.70 L1024.00,757.90 L1037.32,757.00 L1050.64,757.00 L1063.96,757.00 L1077.28,756.50 L1090.60,757.00 L1104.13,756.20 L1117.66,757.20 L1131.19,757.20 L1144.72,757.70 L1158.25,757.70 L1171.78,758.50 L1185.31,759.50 L1198.84,760.30 L1212.37,762.50 L1225.90,765.00" fill="none" stroke="#DD88FF" stroke-width="1.3" stroke-linejoin="round"/>
<polygon points="836.44,822.66 841.53,812.50 831.35,812.50" fill="none" stroke="#DD88FF" stroke-width="2.4" stroke-linejoin="miter"/>
<polygon points="849.88,821.46 854.97,811.30 844.79,811.30" fill="none" stroke="#DD88FF" stroke-width="2.4" stroke-linejoin="miter"/>
<polygon points="863.32,819.36 868.41,809.20 858.23,809.20" fill="none" stroke="#DD88FF" stroke-width="2.4" stroke-linejoin="miter"/>
<polygon points="876.76,818.46 881.85,808.30 871.67,808.30" fill="none" stroke="#DD88FF" stroke-width="2.4" stroke-linejoin="miter"/>
<polygon points="890.20,815.16 895.29,805.00 885.11,805.00" fill="none" stroke="#DD88FF" stroke-width="2.4" stroke-linejoin="miter"/>
<polygon points="903.64,811.86 908.73,801.70 898.55,801.70" fill="none" stroke="#DD88FF" stroke-width="2.4" stroke-linejoin="miter"/>
<polygon points="917.08,806.06 922.17,795.90 911.99,795.90" fill="none" stroke="#DD88FF" stroke-width="2.4" stroke-linejoin="miter"/>
<polygon points="930.52,796.96 935.61,786.80 925.43,786.80" fill="none" stroke="#DD88FF" stroke-width="2.4" stroke-linejoin="miter"/>
<polygon points="943.96,787.86 949.05,777.70 938.87,777.70" fill="none" stroke="#DD88FF" stroke-width="2.4" stroke-linejoin="miter"/>
<polygon points="957.40,780.46 962.49,770.30 952.31,770.30" fill="none" stroke="#DD88FF" stroke-width="2.4" stroke-linejoin="miter"/>
<polygon points="970.72,773.86 975.81,763.70 965.63,763.70" fill="none" stroke="#DD88FF" stroke-width="2.4" stroke-linejoin="miter"/>
<polygon points="984.04,771.06 989.13,760.90 978.95,760.90" fill="none" stroke="#DD88FF" stroke-width="2.4" stroke-linejoin="miter"/>
<polygon points="997.36,768.36 1002.45,758.20 992.27,758.20" fill="none" stroke="#DD88FF" stroke-width="2.4" stroke-linejoin="miter"/>
<polygon points="1010.68,765.46 1015.77,755.30 1005.59,755.30" fill="none" stroke="#DD88FF" stroke-width="2.4" stroke-linejoin="miter"/>
<polygon points="1024.00,763.66 1029.09,753.50 1018.91,753.50" fill="none" stroke="#DD88FF" stroke-width="2.4" stroke-linejoin="miter"/>
<polygon points="1037.32,762.76 1042.41,752.60 1032.23,752.60" fill="none" stroke="#DD88FF" stroke-width="2.4" stroke-linejoin="miter"/>
<polygon points="1050.64,762.76 1055.73,752.60 1045.55,752.60" fill="none" stroke="#DD88FF" stroke-width="2.4" stroke-linejoin="miter"/>
<polygon points="1063.96,762.76 1069.05,752.60 1058.87,752.60" fill="none" stroke="#DD88FF" stroke-width="2.4" stroke-linejoin="miter"/>
<polygon points="1077.28,762.26 1082.37,752.10 1072.19,752.10" fill="none" stroke="#DD88FF" stroke-width="2.4" stroke-linejoin="miter"/>
<polygon points="1090.60,762.76 1095.69,752.60 1085.51,752.60" fill="none" stroke="#DD88FF" stroke-width="2.4" stroke-linejoin="miter"/>
<polygon points="1104.13,761.96 1109.22,751.80 1099.04,751.80" fill="none" stroke="#DD88FF" stroke-width="2.4" stroke-linejoin="miter"/>
<polygon points="1117.66,762.96 1122.75,752.80 1112.57,752.80" fill="none" stroke="#DD88FF" stroke-width="2.4" stroke-linejoin="miter"/>
<polygon points="1131.19,762.96 1136.28,752.80 1126.10,752.80" fill="none" stroke="#DD88FF" stroke-width="2.4" stroke-linejoin="miter"/>
<polygon points="1144.72,763.46 1149.81,753.30 1139.63,753.30" fill="none" stroke="#DD88FF" stroke-width="2.4" stroke-linejoin="miter"/>
<polygon points="1158.25,763.46 1163.34,753.30 1153.16,753.30" fill="none" stroke="#DD88FF" stroke-width="2.4" stroke-linejoin="miter"/>
<polygon points="1171.78,764.26 1176.87,754.10 1166.69,754.10" fill="none" stroke="#DD88FF" stroke-width="2.4" stroke-linejoin="miter"/>
<polygon points="1185.31,765.26 1190.40,755.10 1180.22,755.10" fill="none" stroke="#DD88FF" stroke-width="2.4" stroke-linejoin="miter"/>
<polygon points="1198.84,766.06 1203.93,755.90 1193.75,755.90" fill="none" stroke="#DD88FF" stroke-width="2.4" stroke-linejoin="miter"/>
<polygon points="1212.37,768.26 1217.46,758.10 1207.28,758.10" fill="none" stroke="#DD88FF" stroke-width="2.4" stroke-linejoin="miter"/>
<polygon points="1225.90,770.76 1230.99,760.60 1220.81,760.60" fill="none" stroke="#DD88FF" stroke-width="2.4" stroke-linejoin="miter"/>
<path d="M823.00,717.20 L836.44,714.70 L849.88,714.20 L863.32,713.20 L876.76,713.10 L890.20,713.60 L903.64,714.70 L917.08,716.40 L930.52,718.00 L943.96,720.50 L957.40,723.80 L970.72,726.30 L984.04,727.90 L997.36,729.90 L1010.68,732.10 L1024.00,734.50 L1037.32,736.20 L1050.64,738.30 L1063.96,740.80 L1077.28,742.80 L1090.60,745.00 L1104.13,747.40 L1117.66,749.90 L1131.19,752.70 L1144.72,756.00 L1158.25,759.30 L1171.78,762.60 L1185.31,766.00 L1198.84,770.10 L1212.37,773.90 L1225.90,777.00" fill="none" stroke="#9900E3" stroke-width="1.3" stroke-linejoin="round"/>
<polygon points="836.44,722.50 843.19,709.50 829.69,709.50" fill="#9900E3"/>
<polygon points="849.88,722.00 856.63,709.00 843.13,709.00" fill="#9900E3"/>
<polygon points="863.32,721.00 870.07,708.00 856.57,708.00" fill="#9900E3"/>
<polygon points="876.76,720.90 883.51,707.90 870.01,707.90" fill="#9900E3"/>
<polygon points="890.20,721.40 896.95,708.40 883.45,708.40" fill="#9900E3"/>
<polygon points="903.64,722.50 910.39,709.50 896.89,709.50" fill="#9900E3"/>
<polygon points="917.08,724.20 923.83,711.20 910.33,711.20" fill="#9900E3"/>
<polygon points="930.52,725.80 937.27,712.80 923.77,712.80" fill="#9900E3"/>
<polygon points="943.96,728.30 950.71,715.30 937.21,715.30" fill="#9900E3"/>
<polygon points="957.40,731.60 964.15,718.60 950.65,718.60" fill="#9900E3"/>
<polygon points="970.72,734.10 977.47,721.10 963.97,721.10" fill="#9900E3"/>
<polygon points="984.04,735.70 990.79,722.70 977.29,722.70" fill="#9900E3"/>
<polygon points="997.36,737.70 1004.11,724.70 990.61,724.70" fill="#9900E3"/>
<polygon points="1010.68,739.90 1017.43,726.90 1003.93,726.90" fill="#9900E3"/>
<polygon points="1024.00,742.30 1030.75,729.30 1017.25,729.30" fill="#9900E3"/>
<polygon points="1037.32,744.00 1044.07,731.00 1030.57,731.00" fill="#9900E3"/>
<polygon points="1050.64,746.10 1057.39,733.10 1043.89,733.10" fill="#9900E3"/>
<polygon points="1063.96,748.60 1070.71,735.60 1057.21,735.60" fill="#9900E3"/>
<polygon points="1077.28,750.60 1084.03,737.60 1070.53,737.60" fill="#9900E3"/>
<polygon points="1090.60,752.80 1097.35,739.80 1083.85,739.80" fill="#9900E3"/>
<polygon points="1104.13,755.20 1110.88,742.20 1097.38,742.20" fill="#9900E3"/>
<polygon points="1117.66,757.70 1124.41,744.70 1110.91,744.70" fill="#9900E3"/>
<polygon points="1131.19,760.50 1137.94,747.50 1124.44,747.50" fill="#9900E3"/>
<polygon points="1144.72,763.80 1151.47,750.80 1137.97,750.80" fill="#9900E3"/>
<polygon points="1158.25,767.10 1165.00,754.10 1151.50,754.10" fill="#9900E3"/>
<polygon points="1171.78,770.40 1178.53,757.40 1165.03,757.40" fill="#9900E3"/>
<polygon points="1185.31,773.80 1192.06,760.80 1178.56,760.80" fill="#9900E3"/>
<polygon points="1198.84,777.90 1205.59,764.90 1192.09,764.90" fill="#9900E3"/>
<polygon points="1212.37,781.70 1219.12,768.70 1205.62,768.70" fill="#9900E3"/>
<polygon points="1225.90,784.80 1232.65,771.80 1219.15,771.80" fill="#9900E3"/>
<line x1="1213.30" y1="601.50" x2="1256.60" y2="601.50" stroke="#9900E3" stroke-width="2.6" opacity="0.75"/>
<polygon points="1235.00,609.90 1243.50,592.40 1226.50,592.40" fill="#9900E3"/>
<text transform="translate(1268.20,611.59) scale(1.0505,1)" font-size="31.64" fill="#000">-G’</text>
<line x1="1213.30" y1="655.80" x2="1256.60" y2="655.80" stroke="#DD88FF" stroke-width="2.6" opacity="0.75"/>
<polygon points="1235.00,662.38 1242.94,646.32 1227.06,646.32" fill="none" stroke="#DD88FF" stroke-width="3.4" stroke-linejoin="miter"/>
<text transform="translate(1268.22,665.69) scale(1.0342,1)" font-size="31.64" fill="#000">-G”</text>
<path d="M93.00,1088.50 H105.00 V1362.00 H508.30 V1373.80" fill="none" stroke="#161616" stroke-width="2.7" stroke-linejoin="round"/>
<line x1="93.00" y1="1271.80" x2="105.00" y2="1271.80" stroke="#161616" stroke-width="2.7"/>
<line x1="93.00" y1="1179.10" x2="105.00" y2="1179.10" stroke="#161616" stroke-width="2.7"/>
<line x1="93.00" y1="1362.00" x2="105.00" y2="1362.00" stroke="#161616" stroke-width="2.7"/>
<line x1="105.10" y1="1362.00" x2="105.10" y2="1373.80" stroke="#161616" stroke-width="2.7"/>
<line x1="238.00" y1="1362.00" x2="238.00" y2="1373.80" stroke="#161616" stroke-width="2.7"/>
<line x1="373.30" y1="1362.00" x2="373.30" y2="1373.80" stroke="#161616" stroke-width="2.7"/>
<line x1="508.40" y1="1362.00" x2="508.40" y2="1373.80" stroke="#161616" stroke-width="2.7"/>
<text transform="translate(57.82,1367.58) scale(0.8857,1)" font-size="22.74" fill="#000" style="stroke-width:0.25px">10</text>
<g transform="translate(57.82,1367.58) scale(0.8857,1)" fill="#fff"><rect x="0.43" y="-3.32" width="4.53" height="4.62"/><rect x="8.78" y="-3.32" width="4.24" height="4.62"/><rect fill="#000" x="5.18" y="-3.82" width="3.37" height="3.95"/></g>
<text transform="translate(82.54,1362.70) scale(0.9190,1)" font-size="14.46" fill="#303030" style="stroke-width:0px">2</text>
<text transform="translate(57.82,1277.38) scale(0.8857,1)" font-size="22.74" fill="#000" style="stroke-width:0.25px">10</text>
<g transform="translate(57.82,1277.38) scale(0.8857,1)" fill="#fff"><rect x="0.43" y="-3.32" width="4.53" height="4.62"/><rect x="8.78" y="-3.32" width="4.24" height="4.62"/><rect fill="#000" x="5.18" y="-3.82" width="3.37" height="3.95"/></g>
<text transform="translate(82.70,1272.34) scale(0.9044,1)" font-size="14.24" fill="#303030" style="stroke-width:0px">3</text>
<text transform="translate(57.82,1184.68) scale(0.8857,1)" font-size="22.74" fill="#000" style="stroke-width:0.25px">10</text>
<g transform="translate(57.82,1184.68) scale(0.8857,1)" fill="#fff"><rect x="0.43" y="-3.32" width="4.53" height="4.62"/><rect x="8.78" y="-3.32" width="4.24" height="4.62"/><rect fill="#000" x="5.18" y="-3.82" width="3.37" height="3.95"/></g>
<text transform="translate(82.82,1179.80) scale(0.8139,1)" font-size="14.68" fill="#303030" style="stroke-width:0px">4</text>
<text transform="translate(57.82,1094.08) scale(0.8857,1)" font-size="22.74" fill="#000" style="stroke-width:0.25px">10</text>
<g transform="translate(57.82,1094.08) scale(0.8857,1)" fill="#fff"><rect x="0.43" y="-3.32" width="4.53" height="4.62"/><rect x="8.78" y="-3.32" width="4.24" height="4.62"/><rect fill="#000" x="5.18" y="-3.82" width="3.37" height="3.95"/></g>
<text transform="translate(82.60,1089.06) scale(0.8886,1)" font-size="14.48" fill="#303030" style="stroke-width:0px">5</text>
<text transform="translate(91.46,1395.27) scale(0.8464,1)" font-size="24.01" fill="#000" style="stroke-width:0.2px">0.1</text>
<g transform="translate(91.46,1395.27) scale(0.8464,1)" fill="#fff"><rect x="20.54" y="-3.45" width="4.74" height="4.75"/><rect x="29.27" y="-3.45" width="4.44" height="4.75"/><rect fill="#000" x="25.53" y="-3.95" width="3.49" height="4.05"/></g>
<text transform="translate(233.43,1395.50) scale(0.8423,1)" font-size="24.71" fill="#000" style="stroke-width:0.2px">1</text>
<g transform="translate(233.43,1395.50) scale(0.8423,1)" fill="#fff"><rect x="0.56" y="-3.52" width="4.86" height="4.82"/><rect x="9.51" y="-3.52" width="4.55" height="4.82"/><rect fill="#000" x="5.67" y="-4.02" width="3.59" height="4.12"/></g>
<text transform="translate(361.70,1395.27) scale(0.8476,1)" font-size="24.01" fill="#000" style="stroke-width:0.2px">10</text>
<g transform="translate(361.70,1395.27) scale(0.8476,1)" fill="#fff"><rect x="0.51" y="-3.45" width="4.74" height="4.75"/><rect x="9.25" y="-3.45" width="4.44" height="4.75"/><rect fill="#000" x="5.50" y="-3.95" width="3.49" height="4.05"/></g>
<text transform="translate(491.20,1395.27) scale(0.8446,1)" font-size="24.01" fill="#000" style="stroke-width:0.2px">100</text>
<g transform="translate(491.20,1395.27) scale(0.8446,1)" fill="#fff"><rect x="0.51" y="-3.45" width="4.74" height="4.75"/><rect x="9.25" y="-3.45" width="4.44" height="4.75"/><rect fill="#000" x="5.50" y="-3.95" width="3.49" height="4.05"/></g>
<text transform="translate(62.36,1044.66) scale(0.9890,1)" font-size="45.49" fill="#000" style="stroke-width:0px">(e)</text>
<text transform="translate(254.05,1031.95) scale(0.9848,1)" font-size="45.90" fill="#000">C0F1</text>
<g transform="translate(254.05,1031.95) scale(0.9848,1)" fill="#fff"><rect x="88.61" y="-5.68" width="8.47" height="6.98"/><rect x="104.08" y="-5.68" width="7.89" height="6.98"/><rect fill="#000" x="97.21" y="-6.18" width="6.75" height="6.41"/></g>
<text transform="translate(45.36,1318.17) rotate(-90) scale(0.9859,1)" font-size="33.90" fill="#000">G’(Pa), G”(Pa)</text>
<text transform="translate(255.43,1446.03) scale(1.0243,1)" font-size="32.61" fill="#000">Y*(%)</text>
<path d="M105.10,1209.50 L118.39,1209.20 L131.68,1207.20 L144.97,1205.00 L158.26,1202.90 L171.55,1198.40 L184.84,1187.70 L198.13,1183.60 L211.42,1178.60 L224.71,1175.80 L238.00,1173.60 L251.53,1174.80 L265.06,1173.60 L278.59,1172.50 L292.12,1176.10 L305.65,1178.00 L319.18,1181.10 L332.71,1183.90 L346.24,1186.00 L359.77,1188.30 L373.30,1190.50 L386.81,1193.00 L400.32,1195.50 L413.83,1198.80 L427.34,1202.60 L440.85,1206.50 L454.36,1212.50 L467.87,1220.20 L481.38,1227.70 L494.89,1234.00 L508.40,1242.60" fill="none" stroke="#FFBE88" stroke-width="1.3" stroke-linejoin="round"/>
<ellipse cx="118.39" cy="1209.20" rx="4.55" ry="5.30" fill="none" stroke="#FFBE88" stroke-width="2.4"/>
<ellipse cx="131.68" cy="1207.20" rx="4.55" ry="5.30" fill="none" stroke="#FFBE88" stroke-width="2.4"/>
<ellipse cx="144.97" cy="1205.00" rx="4.55" ry="5.30" fill="none" stroke="#FFBE88" stroke-width="2.4"/>
<ellipse cx="158.26" cy="1202.90" rx="4.55" ry="5.30" fill="none" stroke="#FFBE88" stroke-width="2.4"/>
<ellipse cx="171.55" cy="1198.40" rx="4.55" ry="5.30" fill="none" stroke="#FFBE88" stroke-width="2.4"/>
<ellipse cx="184.84" cy="1187.70" rx="4.55" ry="5.30" fill="none" stroke="#FFBE88" stroke-width="2.4"/>
<ellipse cx="198.13" cy="1183.60" rx="4.55" ry="5.30" fill="none" stroke="#FFBE88" stroke-width="2.4"/>
<ellipse cx="211.42" cy="1178.60" rx="4.55" ry="5.30" fill="none" stroke="#FFBE88" stroke-width="2.4"/>
<ellipse cx="224.71" cy="1175.80" rx="4.55" ry="5.30" fill="none" stroke="#FFBE88" stroke-width="2.4"/>
<ellipse cx="238.00" cy="1173.60" rx="4.55" ry="5.30" fill="none" stroke="#FFBE88" stroke-width="2.4"/>
<ellipse cx="251.53" cy="1174.80" rx="4.55" ry="5.30" fill="none" stroke="#FFBE88" stroke-width="2.4"/>
<ellipse cx="265.06" cy="1173.60" rx="4.55" ry="5.30" fill="none" stroke="#FFBE88" stroke-width="2.4"/>
<ellipse cx="278.59" cy="1172.50" rx="4.55" ry="5.30" fill="none" stroke="#FFBE88" stroke-width="2.4"/>
<ellipse cx="292.12" cy="1176.10" rx="4.55" ry="5.30" fill="none" stroke="#FFBE88" stroke-width="2.4"/>
<ellipse cx="305.65" cy="1178.00" rx="4.55" ry="5.30" fill="none" stroke="#FFBE88" stroke-width="2.4"/>
<ellipse cx="319.18" cy="1181.10" rx="4.55" ry="5.30" fill="none" stroke="#FFBE88" stroke-width="2.4"/>
<ellipse cx="332.71" cy="1183.90" rx="4.55" ry="5.30" fill="none" stroke="#FFBE88" stroke-width="2.4"/>
<ellipse cx="346.24" cy="1186.00" rx="4.55" ry="5.30" fill="none" stroke="#FFBE88" stroke-width="2.4"/>
<ellipse cx="359.77" cy="1188.30" rx="4.55" ry="5.30" fill="none" stroke="#FFBE88" stroke-width="2.4"/>
<ellipse cx="373.30" cy="1190.50" rx="4.55" ry="5.30" fill="none" stroke="#FFBE88" stroke-width="2.4"/>
<ellipse cx="386.81" cy="1193.00" rx="4.55" ry="5.30" fill="none" stroke="#FFBE88" stroke-width="2.4"/>
<ellipse cx="400.32" cy="1195.50" rx="4.55" ry="5.30" fill="none" stroke="#FFBE88" stroke-width="2.4"/>
<ellipse cx="413.83" cy="1198.80" rx="4.55" ry="5.30" fill="none" stroke="#FFBE88" stroke-width="2.4"/>
<ellipse cx="427.34" cy="1202.60" rx="4.55" ry="5.30" fill="none" stroke="#FFBE88" stroke-width="2.4"/>
<ellipse cx="440.85" cy="1206.50" rx="4.55" ry="5.30" fill="none" stroke="#FFBE88" stroke-width="2.4"/>
<ellipse cx="454.36" cy="1212.50" rx="4.55" ry="5.30" fill="none" stroke="#FFBE88" stroke-width="2.4"/>
<ellipse cx="467.87" cy="1220.20" rx="4.55" ry="5.30" fill="none" stroke="#FFBE88" stroke-width="2.4"/>
<ellipse cx="481.38" cy="1227.70" rx="4.55" ry="5.30" fill="none" stroke="#FFBE88" stroke-width="2.4"/>
<ellipse cx="494.89" cy="1234.00" rx="4.55" ry="5.30" fill="none" stroke="#FFBE88" stroke-width="2.4"/>
<ellipse cx="508.40" cy="1242.60" rx="4.55" ry="5.30" fill="none" stroke="#FFBE88" stroke-width="2.4"/>
<path d="M105.10,1135.60 L118.39,1135.10 L131.68,1134.80 L144.97,1135.60 L158.26,1137.30 L171.55,1138.90 L184.84,1142.20 L198.13,1145.50 L211.42,1149.70 L224.71,1154.60 L238.00,1159.90 L251.53,1166.20 L265.06,1172.50 L278.59,1178.60 L292.12,1185.20 L305.65,1190.80 L319.18,1196.30 L332.71,1202.10 L346.24,1207.00 L359.77,1211.70 L373.30,1216.40 L386.81,1221.40 L400.32,1227.40 L413.83,1234.00 L427.34,1240.90 L440.85,1249.50 L454.36,1262.10 L467.87,1273.60 L481.38,1285.50 L494.89,1296.80 L508.40,1311.20" fill="none" stroke="#FF8000" stroke-width="1.3" stroke-linejoin="round"/>
<ellipse cx="118.39" cy="1135.10" rx="6.00" ry="6.25" fill="#FF8000"/>
<ellipse cx="131.68" cy="1134.80" rx="6.00" ry="6.25" fill="#FF8000"/>
<ellipse cx="144.97" cy="1135.60" rx="6.00" ry="6.25" fill="#FF8000"/>
<ellipse cx="158.26" cy="1137.30" rx="6.00" ry="6.25" fill="#FF8000"/>
<ellipse cx="171.55" cy="1138.90" rx="6.00" ry="6.25" fill="#FF8000"/>
<ellipse cx="184.84" cy="1142.20" rx="6.00" ry="6.25" fill="#FF8000"/>
<ellipse cx="198.13" cy="1145.50" rx="6.00" ry="6.25" fill="#FF8000"/>
<ellipse cx="211.42" cy="1149.70" rx="6.00" ry="6.25" fill="#FF8000"/>
<ellipse cx="224.71" cy="1154.60" rx="6.00" ry="6.25" fill="#FF8000"/>
<ellipse cx="238.00" cy="1159.90" rx="6.00" ry="6.25" fill="#FF8000"/>
<ellipse cx="251.53" cy="1166.20" rx="6.00" ry="6.25" fill="#FF8000"/>
<ellipse cx="265.06" cy="1172.50" rx="6.00" ry="6.25" fill="#FF8000"/>
<ellipse cx="278.59" cy="1178.60" rx="6.00" ry="6.25" fill="#FF8000"/>
<ellipse cx="292.12" cy="1185.20" rx="6.00" ry="6.25" fill="#FF8000"/>
<ellipse cx="305.65" cy="1190.80" rx="6.00" ry="6.25" fill="#FF8000"/>
<ellipse cx="319.18" cy="1196.30" rx="6.00" ry="6.25" fill="#FF8000"/>
<ellipse cx="332.71" cy="1202.10" rx="6.00" ry="6.25" fill="#FF8000"/>
<ellipse cx="346.24" cy="1207.00" rx="6.00" ry="6.25" fill="#FF8000"/>
<ellipse cx="359.77" cy="1211.70" rx="6.00" ry="6.25" fill="#FF8000"/>
<ellipse cx="373.30" cy="1216.40" rx="6.00" ry="6.25" fill="#FF8000"/>
<ellipse cx="386.81" cy="1221.40" rx="6.00" ry="6.25" fill="#FF8000"/>
<ellipse cx="400.32" cy="1227.40" rx="6.00" ry="6.25" fill="#FF8000"/>
<ellipse cx="413.83" cy="1234.00" rx="6.00" ry="6.25" fill="#FF8000"/>
<ellipse cx="427.34" cy="1240.90" rx="6.00" ry="6.25" fill="#FF8000"/>
<ellipse cx="440.85" cy="1249.50" rx="6.00" ry="6.25" fill="#FF8000"/>
<ellipse cx="454.36" cy="1262.10" rx="6.00" ry="6.25" fill="#FF8000"/>
<ellipse cx="467.87" cy="1273.60" rx="6.00" ry="6.25" fill="#FF8000"/>
<ellipse cx="481.38" cy="1285.50" rx="6.00" ry="6.25" fill="#FF8000"/>
<ellipse cx="494.89" cy="1296.80" rx="6.00" ry="6.25" fill="#FF8000"/>
<ellipse cx="508.40" cy="1311.20" rx="6.00" ry="6.25" fill="#FF8000"/>
<line x1="481.70" y1="1088.20" x2="528.10" y2="1088.20" stroke="#FF8000" stroke-width="2.6" opacity="0.75"/>
<ellipse cx="504.70" cy="1088.20" rx="8.25" ry="8.25" fill="#FF8000"/>
<text transform="translate(534.70,1100.29) scale(1.0650,1)" font-size="31.36" fill="#000">-G’</text>
<line x1="481.70" y1="1143.70" x2="528.10" y2="1143.70" stroke="#FFBE88" stroke-width="2.6" opacity="0.75"/>
<ellipse cx="504.70" cy="1143.70" rx="8.05" ry="7.55" fill="none" stroke="#FFBE88" stroke-width="3.4"/>
<text transform="translate(534.69,1154.99) scale(1.0669,1)" font-size="31.36" fill="#000">-G”</text>
</g>
</svg></body></html>
